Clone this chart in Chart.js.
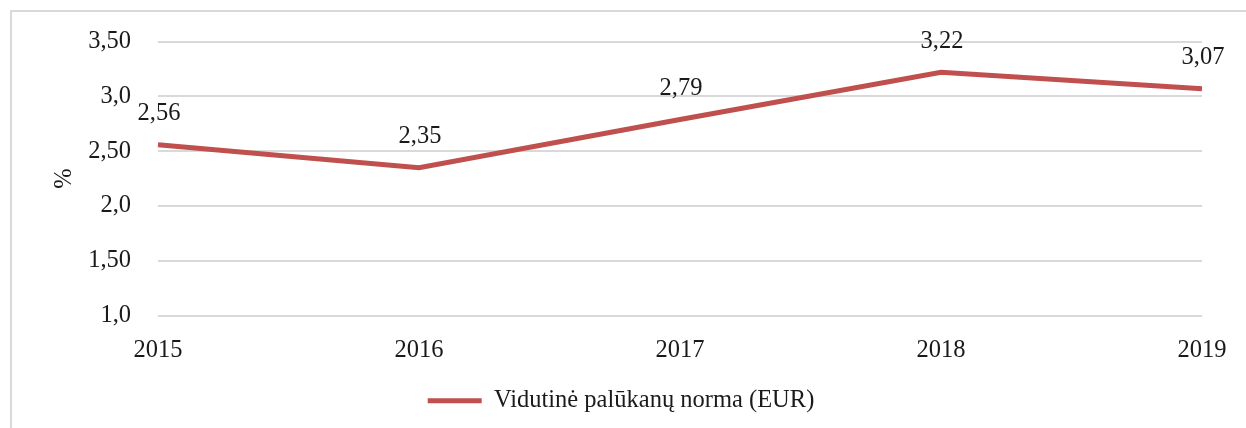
<!DOCTYPE html>
<html lang="lt">
<head>
  <meta charset="UTF-8" />
  <title>Vidutinė palūkanų norma</title>
  <script src="https://cdn.jsdelivr.net/npm/chart.js"></script>
  <style>
    html, body { margin: 0; padding: 0; background: #fff; overflow: hidden; }
    #frame { position: absolute; left: 10px; top: 10px; width: 1260px; height: 440px; border: 2px solid #d9d9d9; box-sizing: border-box; }
    #wrap { position: absolute; left: 0; top: 0; width: 1246px; height: 428px; }
  </style>
</head>
<body>
  <div id="frame"></div>
  <div id="wrap"><canvas id="lineChart"></canvas></div>

  <script>
    const years = ["2015", "2016", "2017", "2018", "2019"];
    const rates = [2.56, 2.35, 2.79, 3.22, 3.07];
    const seriesName = "Vidutinė palūkanų norma (EUR)";
    const yTickLabels = ["1,0", "1,50", "2,0", "2,50", "3,0", "3,50"];

    const serif = "'Liberation Serif', 'Times New Roman', serif";
    const fontSize = 24.5;
    const textColor = "#1a1a1a";
    const lineColor = "#c0504d";

    // value labels above each point, comma decimals
    const valueLabels = {
      id: "valueLabels",
      afterDatasetsDraw(chart) {
        const ctx = chart.ctx;
        const meta = chart.getDatasetMeta(0);
        ctx.save();
        ctx.font = fontSize + "px " + serif;
        ctx.fillStyle = textColor;
        ctx.textAlign = "center";
        ctx.textBaseline = "middle";
        meta.data.forEach((pt, i) => {
          const txt = rates[i].toFixed(2).replace(".", ",");
          ctx.fillText(txt, pt.x + 1, pt.y - 31);
        });
        ctx.restore();
      }
    };

    new Chart(document.getElementById("lineChart"), {
      type: "line",
      data: {
        labels: years,
        datasets: [{
          label: seriesName,
          data: rates,
          borderColor: lineColor,
          backgroundColor: lineColor,
          borderWidth: 5,
          pointRadius: 0,
          tension: 0
        }]
      },
      options: {
        responsive: true,
        maintainAspectRatio: false,
        animation: false,
        layout: { padding: { left: 40, right: 44, top: 39, bottom: 5 } },
        plugins: {
          tooltip: { enabled: false },
          legend: {
            position: "bottom",
            labels: {
              usePointStyle: true,
              pointStyle: "line",
              pointStyleWidth: 54,
              color: textColor,
              padding: 10,
              font: { family: serif, size: fontSize }
            }
          }
        },
        scales: {
          x: {
            offset: false,
            grid: { display: false },
            border: { display: false },
            ticks: { color: textColor, padding: 12, maxRotation: 0, font: { family: serif, size: fontSize } },
            afterFit(scale) { scale.height = 63; }
          },
          y: {
            min: 1,
            max: 3.5,
            grid: { color: "#d9d9d9", lineWidth: 2, drawTicks: false },
            border: { display: false },
            ticks: {
              stepSize: 0.5,
              padding: 27,
              color: textColor,
              font: { family: serif, size: fontSize },
              callback: (v, i) => yTickLabels[i]
            },
            title: { display: true, text: "%", color: textColor, padding: 10, font: { family: serif, size: fontSize } },
            afterFit(scale) { scale.width = 118; }
          }
        }
      },
      plugins: [valueLabels]
    });
  </script>
</body>
</html>
